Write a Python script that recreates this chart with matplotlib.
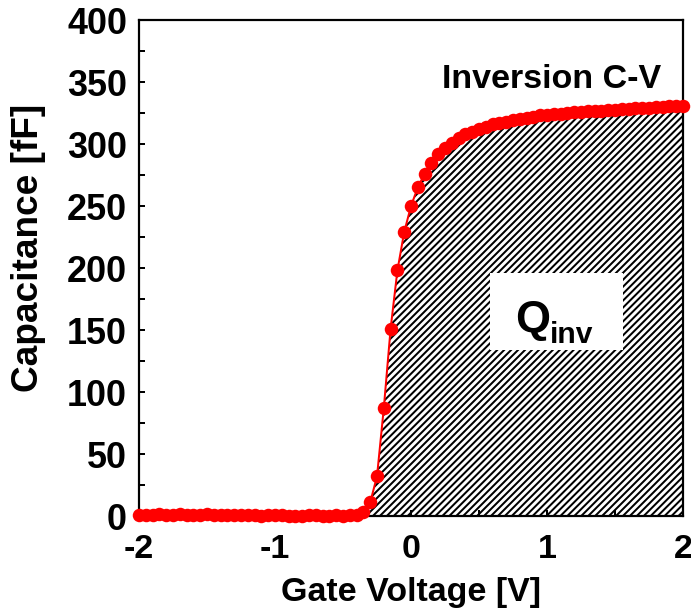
import numpy as np
import matplotlib
matplotlib.use("Agg")
import matplotlib.pyplot as plt
from matplotlib.patches import Rectangle
from matplotlib.ticker import MultipleLocator

# Gate voltage sweep (V) and measured capacitance (fF)
gate_voltage = np.round(np.arange(-2.0, 2.0001, 0.05), 2)
capacitance = [
    # -2.00 ... -0.40 (depletion, flat)
    1, 1, 1, 2, 1, 1, 2, 1, 1, 1, 2, 1, 1, 1, 1, 1, 1,
    1, 0, 1, 1, 1, 0, 0, 0, 1, 1, 0, 0, 1, 0, 1, 1,
    # -0.35 ... 0.95 (turn-on)
    3, 11, 32, 87, 151, 198, 229, 250, 265, 276, 285, 292, 297, 301,
    305, 308, 310, 312, 314, 316, 317, 318, 319, 320, 321, 322, 323,
    # 1.00 ... 2.00 (strong inversion)
    323.5, 324, 324.5, 325, 325.5, 326, 326.3, 326.7, 327, 327.4, 327.7,
    328, 328.4, 328.7, 329, 329.4, 329.7, 330, 330.3, 330.6, 331,
]
capacitance = np.array(capacitance, dtype=float)

x_ticks = [-2, -1, 0, 1, 2]
y_ticks = [0, 50, 100, 150, 200, 250, 300, 350, 400]

DPI = 125
def px(v):
    return v * 72.0 / DPI

plt.rcParams["font.family"] = ["Liberation Sans", "DejaVu Sans"]
plt.rcParams["font.weight"] = "bold"
plt.rcParams["axes.unicode_minus"] = False
plt.rcParams["hatch.linewidth"] = px(2.0)
plt.rcParams["hatch.color"] = "black"

fig = plt.figure(figsize=(691 / DPI, 616 / DPI), dpi=DPI)
ax = fig.add_axes([139 / 691, 1 - 516 / 616, (683 - 139) / 691, (516 - 20) / 616])

# Inversion charge: area under the C-V curve
mask = gate_voltage >= -0.35
ax.fill_between(gate_voltage[mask], 0, capacitance[mask], facecolor="white",
                edgecolor="black", hatch="//////", linewidth=0, zorder=1)

ax.add_patch(Rectangle((0.58, 134), 0.98, 62, facecolor="white",
                       edgecolor="none", zorder=2))
ax.text(0.765, 148.5, "Q", fontsize=px(45), fontweight="bold",
        ha="left", va="baseline", zorder=3)
ax.text(1.02, 139.5, "inv", fontsize=px(30), fontweight="bold",
        ha="left", va="baseline", zorder=3)

ax.plot(gate_voltage, capacitance, color="#ff0000", linewidth=px(2),
        marker="o", markersize=px(13.5), markeredgewidth=0, zorder=4,
        clip_on=False)

ax.text(1.84, 345, "Inversion C-V", fontsize=px(34), fontweight="bold",
        ha="right", va="baseline", zorder=3)

ax.set_xlim(-2, 2)
ax.set_ylim(0, 400)
ax.set_xticks(x_ticks)
ax.set_yticks(y_ticks)
ax.xaxis.set_minor_locator(MultipleLocator(0.5))
ax.yaxis.set_minor_locator(MultipleLocator(25))
ax.tick_params(which="both", direction="in", length=px(6), width=px(2),
               labelsize=px(34), top=False, right=False)
ax.tick_params(axis="y", which="major", labelsize=px(36), pad=px(12))
ax.tick_params(axis="x", which="major", pad=px(18))
for lab in ax.get_xticklabels() + ax.get_yticklabels():
    lab.set_fontweight("bold")

for s in ax.spines.values():
    s.set_linewidth(px(2.2))
    s.set_color("black")

ax.set_xlabel("Gate Voltage [V]", fontsize=px(34), fontweight="bold",
              labelpad=px(12))
ax.set_ylabel("Capacitance [fF]", fontsize=px(37), fontweight="bold")
ax.yaxis.set_label_coords(-0.171, 0.54)

fig.savefig("out.png", dpi=DPI)
